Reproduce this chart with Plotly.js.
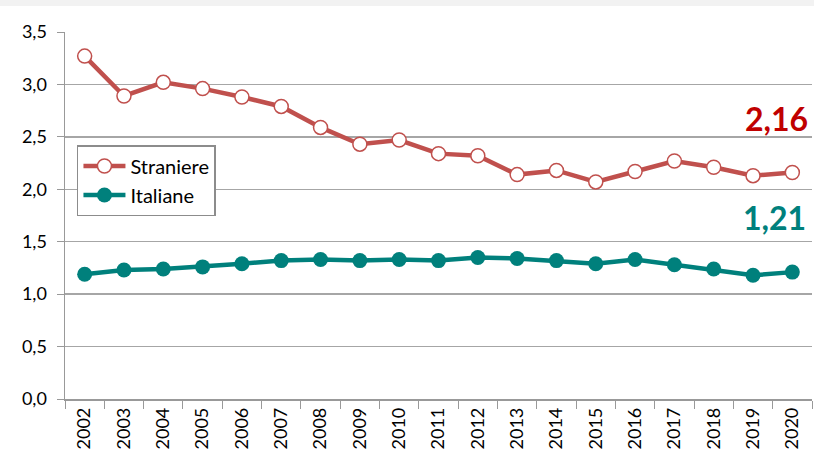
<!DOCTYPE html>
<html><head><meta charset="utf-8">
<script src="https://cdn.plot.ly/plotly-3.0.1.min.js"></script>
<style>html,body{margin:0;padding:0;background:#fff;}#chart{width:814px;height:465px;}</style>
</head><body><div id="chart"></div>
<script>
const anni = ['2002','2003','2004','2005','2006','2007','2008','2009','2010','2011','2012','2013','2014','2015','2016','2017','2018','2019','2020'];
const straniere = [3.27,2.89,3.02,2.96,2.88,2.79,2.59,2.43,2.47,2.34,2.32,2.14,2.18,2.07,2.17,2.27,2.21,2.13,2.16];
const italiane = [1.19,1.23,1.24,1.26,1.29,1.32,1.33,1.32,1.33,1.32,1.35,1.34,1.32,1.29,1.33,1.28,1.24,1.18,1.21];
const yTicks = [0,0.5,1,1.5,2,2.5,3,3.5];

const fmt = v => v.toFixed(2).replace('.', ',');
const FONT = 'Lato, "Open Sans", sans-serif';

const traces = [
  {x: anni, y: straniere, name: 'Straniere', type: 'scatter', mode: 'lines+markers',
   line: {color: '#c0504d', width: 4.5},
   marker: {symbol: 'circle', size: 14, color: '#ffffff', line: {color: '#c0504d', width: 1.5}}},
  {x: anni, y: italiane, name: 'Italiane', type: 'scatter', mode: 'lines+markers',
   line: {color: '#00807c', width: 4.5},
   marker: {symbol: 'circle', size: 15, color: '#00807c'}}
];

const layout = {
  width: 814, height: 465,
  margin: {l: 65, r: 2, t: 32, b: 66},
  paper_bgcolor: '#ffffff', plot_bgcolor: '#ffffff',
  separators: ', ',
  font: {family: FONT, color: '#000000', size: 17},
  showlegend: true,
  legend: {x: 0.016, y: 0.692, xanchor: 'left', yanchor: 'top',
    bgcolor: '#ffffff', bordercolor: '#8c8c8c', borderwidth: 1.5,
    font: {family: FONT, size: 20, color: '#000'}, itemwidth: 42, tracegroupgap: 4},
  xaxis: {type: 'category', tickson: 'boundaries', ticks: 'outside', ticklen: 8, tickcolor: '#999',
    showline: true, linecolor: '#999', linewidth: 1.5, showgrid: false, tickangle: -90,
    tickfont: {family: FONT, size: 18}, range: [-0.5, 18.5], zeroline: false},
  yaxis: {range: [0, 3.5], tickvals: yTicks, tickformat: '.1f', ticks: 'outside', ticklen: 7,
    tickcolor: '#999', showline: true, linecolor: '#999', linewidth: 1.5,
    showgrid: true, gridcolor: '#a6a6a6', gridwidth: 1.5, zeroline: false,
    tickfont: {family: FONT, size: 18}, ticklabelstandoff: 6},
  shapes: [{type: 'rect', xref: 'paper', yref: 'paper', x0: -0.1, x1: 1.01, y0: 1.071, y1: 1.09,
    fillcolor: '#f2f2f2', line: {width: 0}, layer: 'below'}],
  annotations: [
    {xref: 'paper', yref: 'paper', x: 0.952, y: (399-119)/367, text: '<b>' + fmt(straniere[straniere.length-1]) + '</b>',
     showarrow: false, font: {family: FONT, size: 32, color: '#c00000'}, xanchor: 'center', yanchor: 'middle'},
    {xref: 'paper', yref: 'paper', x: 0.95, y: (399-218)/367, text: '<b>' + fmt(italiane[italiane.length-1]) + '</b>',
     showarrow: false, font: {family: FONT, size: 32, color: '#00807c'}, xanchor: 'center', yanchor: 'middle'}
  ]
};
Plotly.newPlot('chart', traces, layout, {displayModeBar: false, staticPlot: true});
</script></body></html>
